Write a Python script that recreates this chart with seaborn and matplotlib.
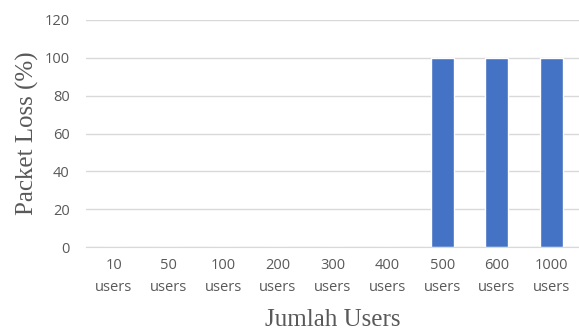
import matplotlib
matplotlib.use("Agg")
import matplotlib.pyplot as plt
import seaborn as sns
import pandas as pd

# chart data
categories = ["10\nusers", "50\nusers", "100\nusers", "200\nusers", "300\nusers",
              "400\nusers", "500\nusers", "600\nusers", "1000\nusers"]
packet_loss = [0, 0, 0, 0, 0, 0, 100, 100, 100]
y_ticks = [0, 20, 40, 60, 80, 100, 120]

sns.set_style("white")
plt.rcParams['font.family'] = ['Open Sans', 'DejaVu Sans']

df = pd.DataFrame({"users": categories, "loss": packet_loss})

fig = plt.figure(figsize=(5.79, 3.33), dpi=100)
ax = fig.add_axes([0.149, 0.258, 0.851, 0.682])

sns.barplot(data=df, x="users", y="loss", color="#4472C4", saturation=1,
            width=0.42, ax=ax)

ax.set_ylim(0, 120)
ax.set_yticks(y_ticks)
ax.set_xlim(-0.5, len(categories) - 0.5)
ax.yaxis.grid(True, color="#d9d9d9", linewidth=1)
ax.set_axisbelow(True)
for side in ["top", "right", "left"]:
    ax.spines[side].set_visible(False)
ax.spines["bottom"].set_color("#d9d9d9")
ax.tick_params(axis="both", length=0, labelsize=10.5, labelcolor="#595959")
ax.tick_params(axis="x", pad=8)
ax.tick_params(axis="y", pad=12)
for lbl in ax.get_xticklabels():
    lbl.set_linespacing(1.6)

ax.set_xlabel("Jumlah Users", family="Liberation Serif", fontsize=18,
              color="#595959", labelpad=10)
ax.set_ylabel("Packet Loss (%)", family="Liberation Serif", fontsize=18,
              color="#595959", labelpad=4)

fig.savefig("out.png", dpi=100)
